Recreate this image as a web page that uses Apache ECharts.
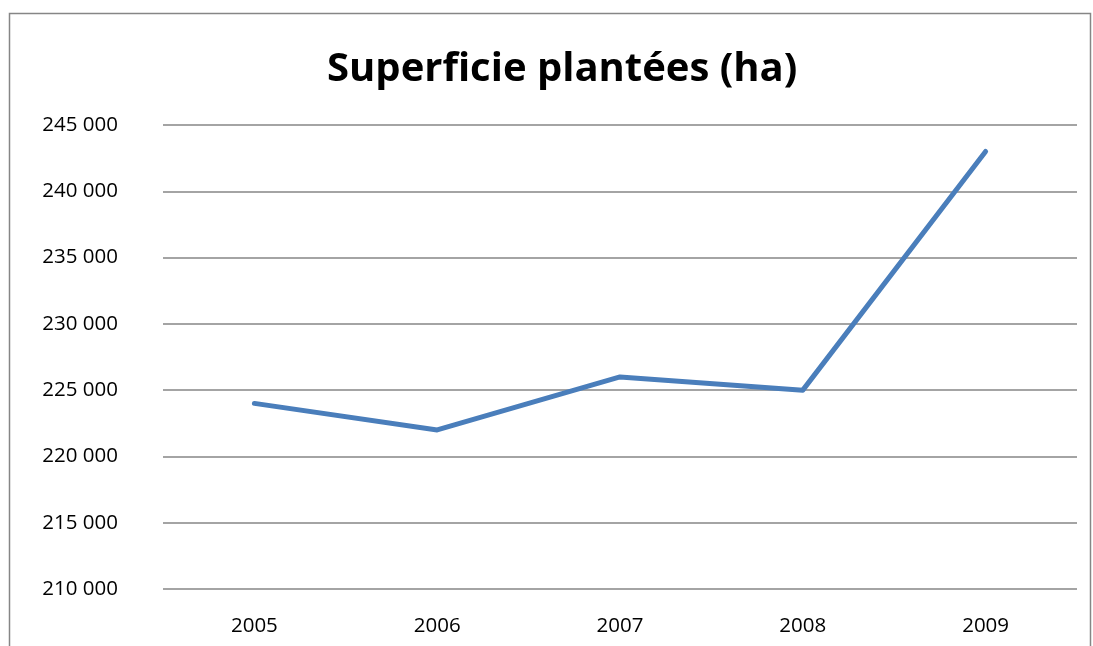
<!DOCTYPE html>
<html><head><meta charset="utf-8">
<script src="https://cdn.jsdelivr.net/npm/echarts@6/dist/echarts.min.js"></script>
<style>html,body{margin:0;padding:0;background:#fff}#c{width:1093px;height:646px}</style>
</head><body><div id="c"></div>
<script>
var categories = ['2005', '2006', '2007', '2008', '2009'];
var values = [224000, 222000, 226000, 225000, 243000];
var yMin = 210000, yMax = 245000, yStep = 5000;
var titleText = 'Superficie plantées (ha)';

var chart = echarts.init(document.getElementById('c'));
chart.setOption({
  animation: false,
  backgroundColor: '#fff',
  title: {
    text: titleText, left: 322, top: 45,
    textStyle: { fontFamily: 'Open Sans', fontWeight: 'bold', fontSize: 40, color: '#000' }
  },
  graphic: [{
    type: 'polyline', silent: true,
    shape: { points: [[9.5, 660], [9.5, 13.5], [1090.5, 13.5], [1090.5, 660]] },
    style: { stroke: '#868686', lineWidth: 1.5, fill: null }
  }],
  grid: { left: 163, right: 16, top: 125, bottom: 57 },
  xAxis: {
    type: 'category', data: categories, boundaryGap: true,
    axisLine: { show: false }, axisTick: { show: false },
    axisLabel: { margin: 27, fontFamily: 'Open Sans', fontSize: 20.5, color: '#000' }
  },
  yAxis: {
    type: 'value', min: yMin, max: yMax, interval: yStep,
    axisLine: { show: false }, axisTick: { show: false },
    splitLine: { lineStyle: { color: '#868686', width: 1.5 } },
    axisLabel: {
      margin: 45, fontFamily: 'Open Sans', fontSize: 20.5, color: '#000',
      formatter: function (v) { return String(v).replace(/\B(?=(\d{3})+(?!\d))/g, ' '); }
    }
  },
  series: [{
    type: 'line', data: values, symbol: 'none',
    lineStyle: { color: '#4a7ebb', width: 5, cap: 'round', join: 'round' }
  }]
});
</script></body></html>
